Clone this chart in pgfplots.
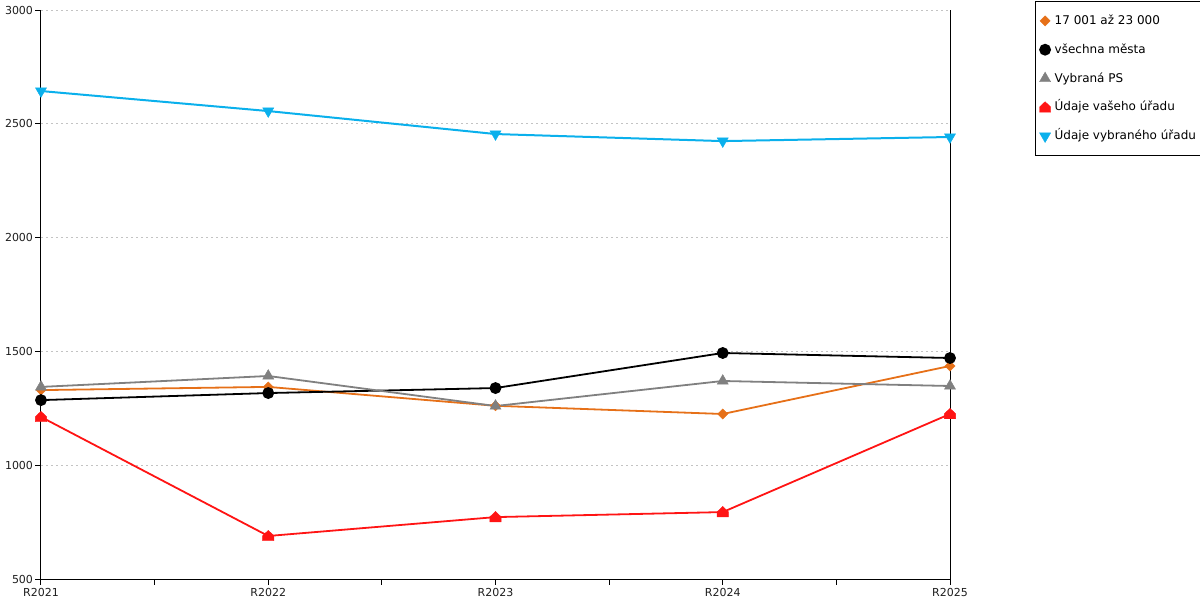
\documentclass[border=0pt]{standalone}
\usepackage{fontspec}
\setmainfont{DejaVu Sans}
\usepackage{pgfplots}
\pgfplotsset{compat=1.18}
\usetikzlibrary{plotmarks}
\pgfdeclareplotmark{house*}{%
  \pgfpathmoveto{\pgfqpoint{-\pgfplotmarksize}{-0.85\pgfplotmarksize}}%
  \pgfpathlineto{\pgfqpoint{\pgfplotmarksize}{-0.85\pgfplotmarksize}}%
  \pgfpathlineto{\pgfqpoint{\pgfplotmarksize}{0.05\pgfplotmarksize}}%
  \pgfpathlineto{\pgfqpoint{0pt}{\pgfplotmarksize}}%
  \pgfpathlineto{\pgfqpoint{-\pgfplotmarksize}{0.05\pgfplotmarksize}}%
  \pgfpathclose
  \pgfusepathqfillstroke}
\definecolor{cOrange}{RGB}{230,112,24}
\definecolor{cGray}{RGB}{128,128,128}
\definecolor{cRed}{RGB}{255,20,20}
\definecolor{cBlue}{RGB}{10,176,236}
\definecolor{cGrid}{RGB}{195,195,195}
\definecolor{cText}{RGB}{30,30,30}
\begin{document}
\begin{tikzpicture}
\useasboundingbox (0,0) rectangle (600pt,300pt);
\begin{axis}[
  at={(20.5pt,10.5pt)}, anchor=south west,
  scale only axis, width=454.5pt, height=284.5pt,
  xmin=0, xmax=4, ymin=500, ymax=3000,
  xtick={0,1,2,3,4},
  xticklabels={R2021,R2022,R2023,R2024,R2025},
  minor x tick num=1,
  ytick={500,1000,1500,2000,2500,3000},
  /pgf/number format/1000 sep={},
  /pgf/number format/assume math mode=true,
  axis x line*=bottom, axis y line*=left,
  axis line style={line width=0.5pt, black, -},
  tick align=outside,
  major tick length=2.8pt, minor tick length=2.8pt,
  x tick style={line width=0.5pt, black},
  minor x tick style={line width=0.5pt, black},
  y tick style={line width=0.5pt, black},
  ymajorgrids,
  grid style={cGrid, line width=0.5pt, dash pattern=on 1pt off 1.5pt},
  ticklabel style={font=\fontsize{5.5}{6.5}\selectfont, text=cText},
  yticklabel style={inner sep=1pt},
  xticklabel style={inner sep=1.5pt},
  clip=false,
  legend style={at={(1.0935,1.0158)}, anchor=north west, draw=black, line width=0.5pt,
    font=\fontsize{6}{7}\selectfont, row sep=4pt, inner xsep=2pt, inner ysep=4.5pt,
    cells={anchor=west}, nodes={text height=5pt, text depth=1.4pt}},
  legend image code/.code={\draw[#1] plot coordinates {(0.1cm,0cm)};},
]
\addplot[color=cOrange, line width=0.9pt, mark=square*, mark size=1.8pt, mark options={fill=cOrange, draw=cOrange, line width=0.2pt, rotate=45}]
 coordinates {(0,1330) (1,1344) (2,1261) (3,1225) (4,1436)};
\addlegendentry{17 001 až 23 000}
\addplot[color=black, line width=0.9pt, mark=*, mark size=2.5pt, mark options={fill=black}]
 coordinates {(0,1286) (1,1317) (2,1339) (3,1493) (4,1471)};
\addlegendentry{všechna města}
\addplot[color=cGray, line width=0.9pt, mark=triangle*, mark size=3.2pt, mark options={fill=cGray, draw=cGray, line width=0.2pt}]
 coordinates {(0,1344) (1,1392) (2,1260) (3,1370) (4,1348)};
\addlegendentry{Vybraná PS}
\addplot[color=cRed, line width=0.9pt, mark=house*, mark size=2.8pt, mark options={fill=cRed, draw=cRed, line width=0.2pt}]
 coordinates {(0,1212) (1,689) (2,772) (3,794) (4,1225)};
\addlegendentry{Údaje vašeho úřadu}
\addplot[color=cBlue, line width=1pt, mark=triangle*, mark size=3.2pt, mark options={fill=cBlue, draw=cBlue, line width=0.2pt, rotate=180}]
 coordinates {(0,2644) (1,2556) (2,2455) (3,2424) (4,2442)};
\addlegendentry{Údaje vybraného úřadu}
\draw[black, line width=0.5pt] (rel axis cs:1,0) -- (rel axis cs:1,1);
\end{axis}
\end{tikzpicture}
\end{document}
